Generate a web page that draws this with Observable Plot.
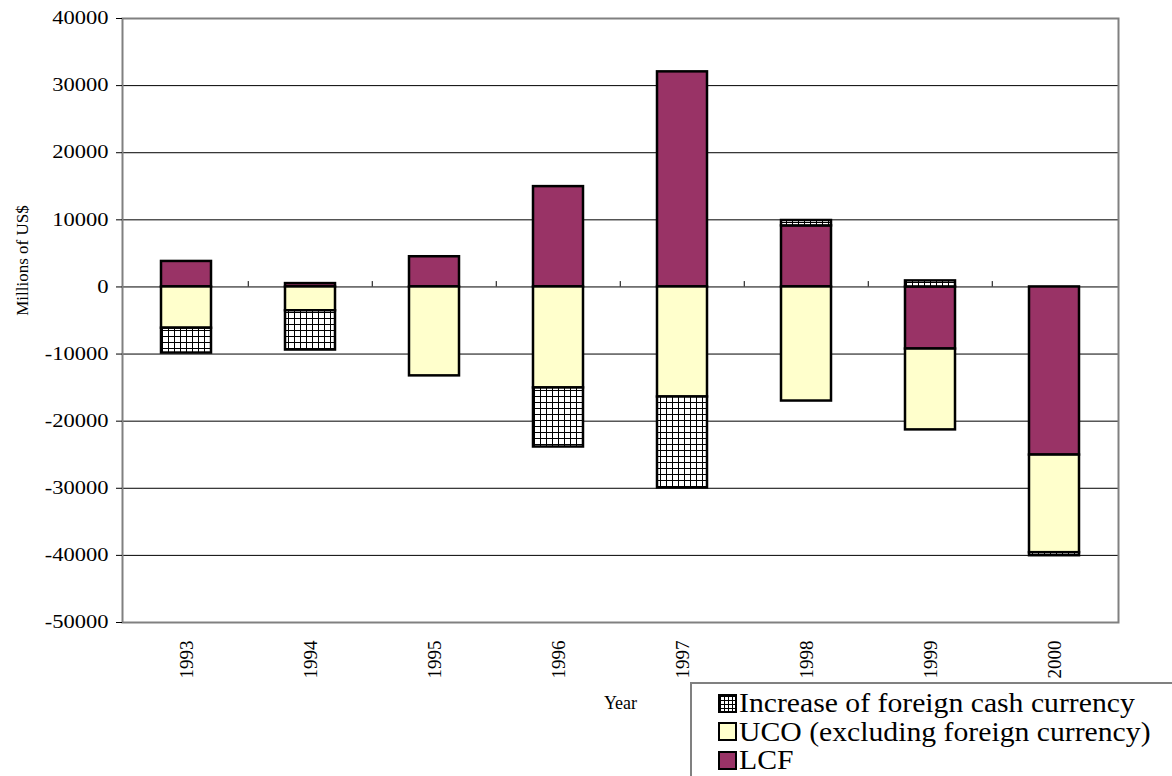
<!DOCTYPE html>
<html>
<head>
<meta charset="utf-8">
<script src="https://cdn.jsdelivr.net/npm/d3@7"></script>
<script src="https://cdn.jsdelivr.net/npm/@observablehq/plot@0.6"></script>
<style>
  html, body { margin: 0; padding: 0; background: #fff; }
  #wrap { position: relative; width: 1172px; height: 776px; overflow: hidden; font-family: "Liberation Serif", "Times New Roman", serif; }
  #wrap svg, #wrap svg text { font-family: "Liberation Serif", "Times New Roman", serif !important; }
  #legend { position: absolute; left: 690px; top: 682px; width: 600px; height: 140px; border: 2px solid #808080; background: #fff; padding: 5px 0 0 26px; box-sizing: border-box; }
  .item { display: flex; align-items: center; height: 28.5px; font-size: 27px; line-height: 28.5px; color: #000; white-space: nowrap; }
  .sw { width: 15px; height: 15px; border: 2px solid #000; margin-right: 2px; flex: none; }
  .lt { display: inline-block; transform: scaleX(1.1); transform-origin: left center; }
</style>
</head>
<body>
<div id="wrap"></div>
<script>
// ---- data ----
const years = ["1993", "1994", "1995", "1996", "1997", "1998", "1999", "2000"];
const lcf  = [3800, 500, 4500, 14950, 32050, 9100, -9250, -25050];
const uco  = [-6150, -3550, -13250, -15050, -16400, -17000, -12050, -14550];
const cash = [-3700, -5850, 0, -8800, -13550, 800, 900, -450];
const seriesNames = ["LCF", "UCO (excluding foreign currency)", "Increase of foreign cash currency"];
const seriesFill = ["#993366", "#FFFFCC", "url(#gridpat)"];
const legendOrder = ["Increase of foreign cash currency", "UCO (excluding foreign currency)", "LCF"];
const yTicks = [-50000, -40000, -30000, -20000, -10000, 0, 10000, 20000, 30000, 40000];
const gridTicks = [-40000, -30000, -20000, -10000, 0, 10000, 20000, 30000];

// ---- layout ----
const W = 1172, H = 776;
const mL = 122, mR = 54, mT = 18, mB = 154;
const halfBand = (W - mL - mR) / years.length / 2;
const FF = "Liberation Serif, Times New Roman, serif";

const rows = [];
years.forEach((y, i) => {
  [[seriesNames[0], lcf[i]], [seriesNames[1], uco[i]], [seriesNames[2], cash[i]]].forEach(([s, v]) => {
    if (v !== 0) rows.push({year: y, series: s, value: v});
  });
});

const chart = Plot.plot({
  width: W, height: H,
  marginLeft: mL, marginRight: mR, marginTop: mT, marginBottom: mB,
  style: {fontFamily: FF, background: "#fff", color: "#000"},
  x: {domain: years, padding: 0, axis: null},
  y: {domain: [-50000, 40000], axis: null},
  color: {type: "ordinal", domain: seriesNames, range: seriesFill},
  marks: [
    Plot.ruleY(gridTicks, {stroke: "#000", strokeWidth: 1}),
    Plot.ruleX(years.slice(1), {x: d => d, y1: 0, y2: 800, dx: -halfBand, stroke: "#000", strokeWidth: 1}),
    Plot.barY(rows, Plot.stackY({x: "year", y: "value", fill: "series", stroke: "#000", strokeWidth: 2.5, insetLeft: 37, insetRight: 37})),
    Plot.frame({stroke: "#808080", strokeWidth: 2}),
    Plot.axisY({ticks: yTicks, tickFormat: d => String(d), tickSize: 6, tickPadding: 8, fontSize: 18, fontFamily: FF, label: null, stroke: "#000"}),
    Plot.axisX({tickRotate: -90, tickSize: 0, tickPadding: 18, fontSize: 19, fontFamily: FF, label: null}),
    Plot.text(["Year"], {text: d => d, frameAnchor: "bottom", dy: 81, fontSize: 18, fontFamily: FF, textAnchor: "middle", lineAnchor: "middle"}),
    Plot.text(["Millions of US$"], {text: d => d, frameAnchor: "left", rotate: -90, dx: -100, dy: -60, fontSize: 17, fontFamily: FF, textAnchor: "middle", lineAnchor: "middle"})
  ]
});

// pattern definition for the cross-hatched series
const ns = "http://www.w3.org/2000/svg";
const svg = chart.tagName.toLowerCase() === "svg" ? chart : chart.querySelector("svg");
const defs = document.createElementNS(ns, "defs");
defs.innerHTML = '<pattern id="gridpat" patternUnits="userSpaceOnUse" width="6" height="6">' +
  '<rect width="6" height="6" fill="#fff"/>' +
  '<path d="M0.5 0V6M0 0.5H6" stroke="#000" stroke-width="1"/></pattern>';
svg.insertBefore(defs, svg.firstChild);

const wrap = document.getElementById("wrap");
wrap.appendChild(chart);

// widen the y tick labels like the reference's stretched glyphs
svg.querySelectorAll('g[aria-label="y-axis tick label"] text').forEach(t => {
  const len = t.getComputedTextLength();
  t.setAttribute("textLength", (len * 1.25).toFixed(1));
  t.setAttribute("lengthAdjust", "spacingAndGlyphs");
});

// legend
const legend = document.createElement("div");
legend.id = "legend";
legendOrder.forEach(name => {
  const it = document.createElement("div");
  it.className = "item";
  const sw = document.createElement("span");
  sw.className = "sw";
  const f = seriesFill[seriesNames.indexOf(name)];
  if (f.startsWith("url")) {
    sw.style.background = "#fff";
    sw.style.backgroundImage = "linear-gradient(#000 1px, transparent 1px), linear-gradient(90deg, #000 1px, transparent 1px)";
    sw.style.backgroundSize = "4px 4px";
  } else {
    sw.style.background = f;
  }
  it.appendChild(sw);
  const t = document.createElement("span");
  t.className = "lt";
  t.textContent = name;
  it.appendChild(t);
  legend.appendChild(it);
});
wrap.appendChild(legend);
</script>
</body>
</html>
